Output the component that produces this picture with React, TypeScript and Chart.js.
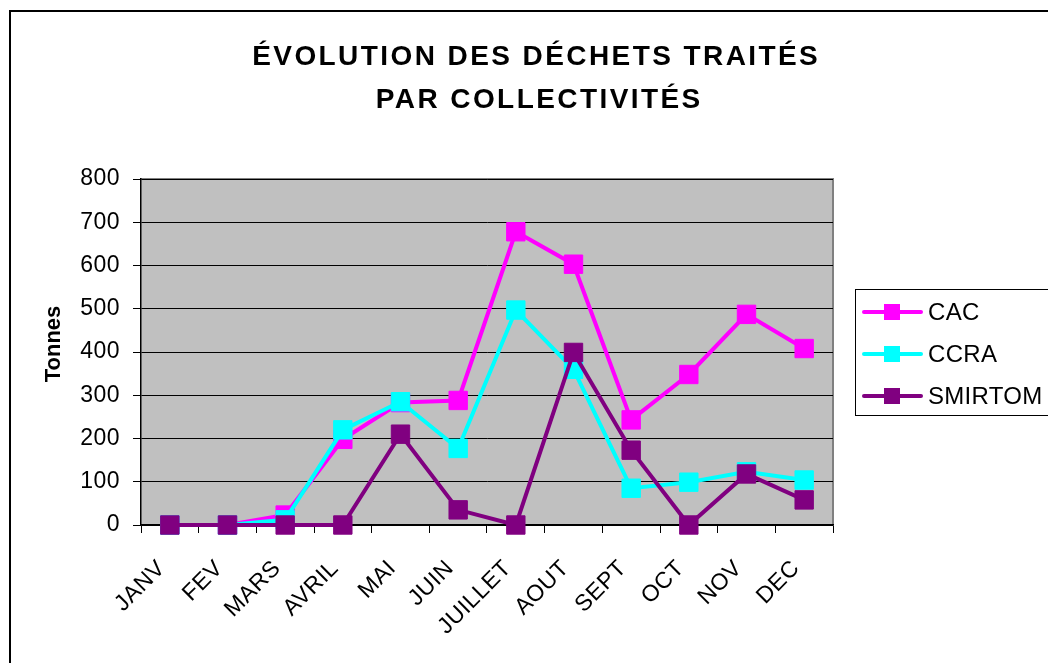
import { useEffect, useRef } from "react";
import { Chart, registerables } from "chart.js";

Chart.register(...registerables);

const months = ["JANV", "FEV", "MARS", "AVRIL", "MAI", "JUIN", "JUILLET", "AOUT", "SEPT", "OCT", "NOV", "DEC"];
const cac = [0, 0, 23, 198, 283, 288, 678, 603, 243, 348, 487, 408];
const ccra = [0, 0, 12, 220, 285, 177, 497, 360, 85, 99, 123, 104];
const smirtom = [0, 0, 0, 0, 210, 35, 0, 399, 173, 0, 118, 58];
const seriesNames = ["CAC", "CCRA", "SMIRTOM"];
const seriesColors = ["#FF00FF", "#00FFFF", "#800080"];
const titleLines = ["ÉVOLUTION DES DÉCHETS TRAITÉS", "PAR COLLECTIVITÉS"];
const yTitle = "Tonnes";
const yMin = 0;
const yMax = 800;
const yStep = 100;

const FONT = "'Liberation Sans', Arial, sans-serif";

function fitText(ctx: CanvasRenderingContext2D, text: string, cx: number, y: number, target: number) {
  ctx.letterSpacing = "0px";
  const w = ctx.measureText(text).width;
  const ls = Math.max(0, (target - w) / text.length);
  ctx.letterSpacing = `${ls}px`;
  ctx.fillText(text, cx + ls / 2, y);
}

const framePlugin = {
  id: "frame",
  beforeDraw(chart: any) {
    const { ctx, chartArea } = chart;
    ctx.save();
    ctx.fillStyle = "#ffffff";
    ctx.fillRect(0, 0, chart.width, chart.height);
    ctx.fillStyle = "#C0C0C0";
    ctx.fillRect(chartArea.left, chartArea.top, chartArea.right - chartArea.left, chartArea.bottom - chartArea.top);
    ctx.strokeStyle = "#808080";
    ctx.lineWidth = 2;
    ctx.beginPath();
    ctx.moveTo(chartArea.left, chartArea.top);
    ctx.lineTo(chartArea.right, chartArea.top);
    ctx.lineTo(chartArea.right, chartArea.bottom);
    ctx.stroke();
    ctx.restore();
    ctx.letterSpacing = "0.5px";
  },
  beforeDatasetsDraw(chart: any) {
    chart.ctx.letterSpacing = "0px";
  },
  afterDraw(chart: any) {
    const { ctx } = chart;
    ctx.save();
    ctx.letterSpacing = "0px";
    // outer border
    ctx.strokeStyle = "#000000";
    ctx.lineWidth = 2;
    ctx.strokeRect(10, 11, 1200, 800);

    // title
    ctx.fillStyle = "#000000";
    ctx.font = `bold 28px ${FONT}`;
    ctx.textAlign = "center";
    ctx.textBaseline = "alphabetic";
    fitText(ctx, titleLines[0], 535, 65, 568);
    fitText(ctx, titleLines[1], 538, 108, 327);

    // y axis title
    ctx.save();
    ctx.letterSpacing = "0px";
    ctx.font = `bold 22px ${FONT}`;
    ctx.translate(54, 344);
    ctx.rotate(-Math.PI / 2);
    ctx.textAlign = "center";
    ctx.textBaseline = "middle";
    ctx.fillText(yTitle, 0, 0);
    ctx.restore();

    // legend
    ctx.letterSpacing = "0px";
    ctx.lineWidth = 1;
    ctx.strokeStyle = "#000000";
    ctx.strokeRect(855.5, 289.5, 400, 126);
    ctx.font = `24px ${FONT}`;
    ctx.textAlign = "left";
    ctx.textBaseline = "middle";
    ctx.letterSpacing = "0.3px";
    seriesNames.forEach((name, i) => {
      const y = 312 + i * 42;
      const c = seriesColors[i];
      ctx.strokeStyle = c;
      ctx.lineWidth = 4;
      ctx.lineCap = "round";
      ctx.beginPath();
      ctx.moveTo(864, y);
      ctx.lineTo(921, y);
      ctx.stroke();
      ctx.fillStyle = c;
      ctx.fillRect(884, y - 8, 16, 16);
      ctx.fillStyle = "#000000";
      ctx.fillText(name, 928, y + 1);
    });
    ctx.restore();
  },
};

export default function App() {
  const ref = useRef<HTMLCanvasElement>(null);
  useEffect(() => {
    const series = [cac, ccra, smirtom];
    const chart = new Chart(ref.current as HTMLCanvasElement, {
      type: "line",
      data: {
        labels: months,
        datasets: series.map((d, i) => ({
          label: seriesNames[i],
          data: d,
          borderColor: seriesColors[i],
          backgroundColor: seriesColors[i],
          borderWidth: 4,
          pointStyle: "rect",
          pointRadius: 13,
          pointBorderWidth: 1,
          pointBorderColor: seriesColors[i],
          pointBackgroundColor: seriesColors[i],
          tension: 0,
          clip: false as any,
          order: 3 - i,
        })),
      },
      options: {
        animation: false,
        responsive: false,
        devicePixelRatio: 1,
        layout: { padding: { top: 179, right: 215, bottom: 0, left: 0 } },
        plugins: {
          legend: { display: false },
          title: { display: false },
          tooltip: { enabled: false },
        },
        scales: {
          x: {
            type: "category",
            offset: true,
            afterFit(scale: any) {
              scale.height = 138;
            },
            grid: {
              offset: true,
              drawOnChartArea: false,
              drawTicks: true,
              tickLength: 8,
              color: "#000000",
            },
            border: { color: "#000000", width: 1.5 },
            ticks: {
              autoSkip: false,
              maxRotation: 45,
              minRotation: 45,
              padding: 22,
              labelOffset: -8,
              color: "#000000",
              font: { family: FONT, size: 23 },
            },
          },
          y: {
            min: yMin,
            max: yMax,
            afterFit(scale: any) {
              scale.width = 141;
            },
            grid: {
              color: "#000000",
              lineWidth: 1,
              drawTicks: true,
              tickLength: 8,
            },
            border: { color: "#000000", width: 1.5 },
            ticks: {
              stepSize: yStep,
              padding: 13,
              color: "#000000",
              font: { family: FONT, size: 23 },
            },
            title: { display: false },
          },
        },
      },
      plugins: [framePlugin],
    });
    return () => chart.destroy();
  }, []);
  return (
    <div style={{ position: "absolute", left: 0, top: 0, width: 1048, height: 663 }}>
      <canvas ref={ref} width={1048} height={663} style={{ display: "block" }} />
    </div>
  );
}
